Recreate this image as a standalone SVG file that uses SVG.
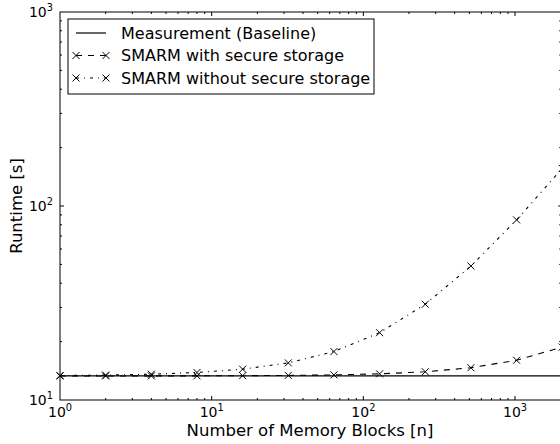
<svg xmlns="http://www.w3.org/2000/svg" width="560" height="444" viewBox="0 0 560 444">
<style>
text{font-family:"DejaVu Sans","Liberation Sans",sans-serif;fill:#000}
.tl{font-size:14px}
.sup{font-size:9.8px}
.lab{font-size:16.5px}
.leg{font-size:16px}
.spine{fill:none;stroke:#000;stroke-width:1}
.tick{fill:none;stroke:#000;stroke-width:1}
.base{fill:none;stroke:#000;stroke-width:1.2}
.dash{fill:none;stroke:#000;stroke-width:1.1;stroke-dasharray:6,6}
.dd{fill:none;stroke:#000;stroke-width:1.1;stroke-dasharray:3,5,1,5}
.mk{fill:none;stroke:#000;stroke-width:1}
</style>
<defs>
<path id="mk" class="mk" d="M-3.5,-3.5L3.5,3.5M-3.5,3.5L3.5,-3.5"/>
</defs>
<rect x="0" y="0" width="560" height="444" fill="#fff"/>

<g id="series">
<g id="baseline">
<path class="base" d="M60,375.97H562.25"/>
</g>
<g id="with-secure">
<path class="dash" d="M60,375.96L105.66,375.94L151.32,375.91L196.98,375.84L242.64,375.7L288.29,375.43L333.95,374.9L379.61,373.84L425.27,371.77L470.93,367.76L516.59,360.27L562.25,347.05"/>
<use href="#mk" x="60" y="375.96"/><use href="#mk" x="105.66" y="375.94"/><use href="#mk" x="151.32" y="375.91"/><use href="#mk" x="196.98" y="375.84"/><use href="#mk" x="242.64" y="375.7"/><use href="#mk" x="288.29" y="375.43"/><use href="#mk" x="333.95" y="374.9"/><use href="#mk" x="379.61" y="373.84"/><use href="#mk" x="425.27" y="371.77"/><use href="#mk" x="470.93" y="367.76"/><use href="#mk" x="516.59" y="360.27"/><use href="#mk" x="562.25" y="347.05"/>
</g>
<g id="without-secure">
<path class="dd" d="M60,375.53L105.66,375.09L151.32,374.22L196.98,372.51L242.64,369.18L288.29,362.89L333.95,351.57L379.61,332.68L425.27,304.22L470.93,266.04L516.59,219.92L562.25,168.4"/>
<use href="#mk" x="60" y="375.53"/><use href="#mk" x="105.66" y="375.09"/><use href="#mk" x="151.32" y="374.22"/><use href="#mk" x="196.98" y="372.51"/><use href="#mk" x="242.64" y="369.18"/><use href="#mk" x="288.29" y="362.89"/><use href="#mk" x="333.95" y="351.57"/><use href="#mk" x="379.61" y="332.68"/><use href="#mk" x="425.27" y="304.22"/><use href="#mk" x="470.93" y="266.04"/><use href="#mk" x="516.59" y="219.92"/><use href="#mk" x="562.25" y="168.4"/>
</g>
</g>

<g id="axes">
<rect class="spine" x="60" y="12" width="502.25" height="388"/>
<path class="tick" d="M211.67,400v-4M363.34,400v-4M515.01,400v-4M211.67,12v4M363.34,12v4M515.01,12v4
M105.66,400v-2M132.36,400v-2M151.32,400v-2M166.01,400v-2M178.02,400v-2M188.17,400v-2M196.98,400v-2M204.73,400v-2
M257.33,400v-2M284.03,400v-2M302.99,400v-2M317.68,400v-2M329.69,400v-2M339.84,400v-2M348.65,400v-2M356.4,400v-2
M409,400v-2M435.7,400v-2M454.66,400v-2M469.35,400v-2M481.36,400v-2M491.51,400v-2M500.32,400v-2M508.07,400v-2
M105.66,12v2M132.36,12v2M151.32,12v2M166.01,12v2M178.02,12v2M188.17,12v2M196.98,12v2M204.73,12v2
M257.33,12v2M284.03,12v2M302.99,12v2M317.68,12v2M329.69,12v2M339.84,12v2M348.65,12v2M356.4,12v2
M409,12v2M435.7,12v2M454.66,12v2M469.35,12v2M481.36,12v2M491.51,12v2M500.32,12v2M508.07,12v2
M60,206h4M562.25,206h-4
M60,341.6h2M60,307.44h2M60,283.2h2M60,264.4h2M60,249.04h2M60,236.05h2M60,224.8h2M60,214.88h2
M60,147.6h2M60,113.44h2M60,89.2h2M60,70.4h2M60,55.04h2M60,42.05h2M60,30.8h2M60,20.88h2
M562.25,341.6h-3M562.25,307.44h-3M562.25,283.2h-3M562.25,264.4h-3M562.25,249.04h-3M562.25,236.05h-3M562.25,224.8h-3M562.25,214.88h-3
M562.25,147.6h-3M562.25,113.44h-3M562.25,89.2h-3M562.25,70.4h-3M562.25,55.04h-3M562.25,42.05h-3M562.25,30.8h-3M562.25,20.88h-3"/>
<text class="tl" x="53" y="16.5" text-anchor="end">10<tspan class="sup" dy="-6">3</tspan></text>
<text class="tl" x="53" y="210.5" text-anchor="end">10<tspan class="sup" dy="-6">2</tspan></text>
<text class="tl" x="53" y="404.5" text-anchor="end">10<tspan class="sup" dy="-6">1</tspan></text>
<text class="tl" x="60" y="416.5" text-anchor="middle">10<tspan class="sup" dy="-6">0</tspan></text>
<text class="tl" x="211.67" y="416.5" text-anchor="middle">10<tspan class="sup" dy="-6">1</tspan></text>
<text class="tl" x="363.34" y="416.5" text-anchor="middle">10<tspan class="sup" dy="-6">2</tspan></text>
<text class="tl" x="515.01" y="416.5" text-anchor="middle">10<tspan class="sup" dy="-6">3</tspan></text>
<text class="lab" x="310" y="436" text-anchor="middle">Number of Memory Blocks [n]</text>
<text class="lab" transform="translate(22,206) rotate(-90)" text-anchor="middle">Runtime [s]</text>
</g>

<g id="legend">
<rect x="68" y="19" width="306" height="75" fill="#fff" stroke="#000" stroke-width="1"/>
<path class="base" d="M76,33H106"/>
<text class="leg" x="121" y="38.8">Measurement (Baseline)</text>
<path class="dash" d="M76,55.5H106"/>
<use href="#mk" x="76" y="55.5"/><use href="#mk" x="106" y="55.5"/>
<text class="leg" x="121" y="61.3">SMARM with secure storage</text>
<path class="dd" d="M76,78H106"/>
<use href="#mk" x="76" y="78"/><use href="#mk" x="106" y="78"/>
<text class="leg" x="121" y="83.8">SMARM without secure storage</text>
</g>
</svg>
